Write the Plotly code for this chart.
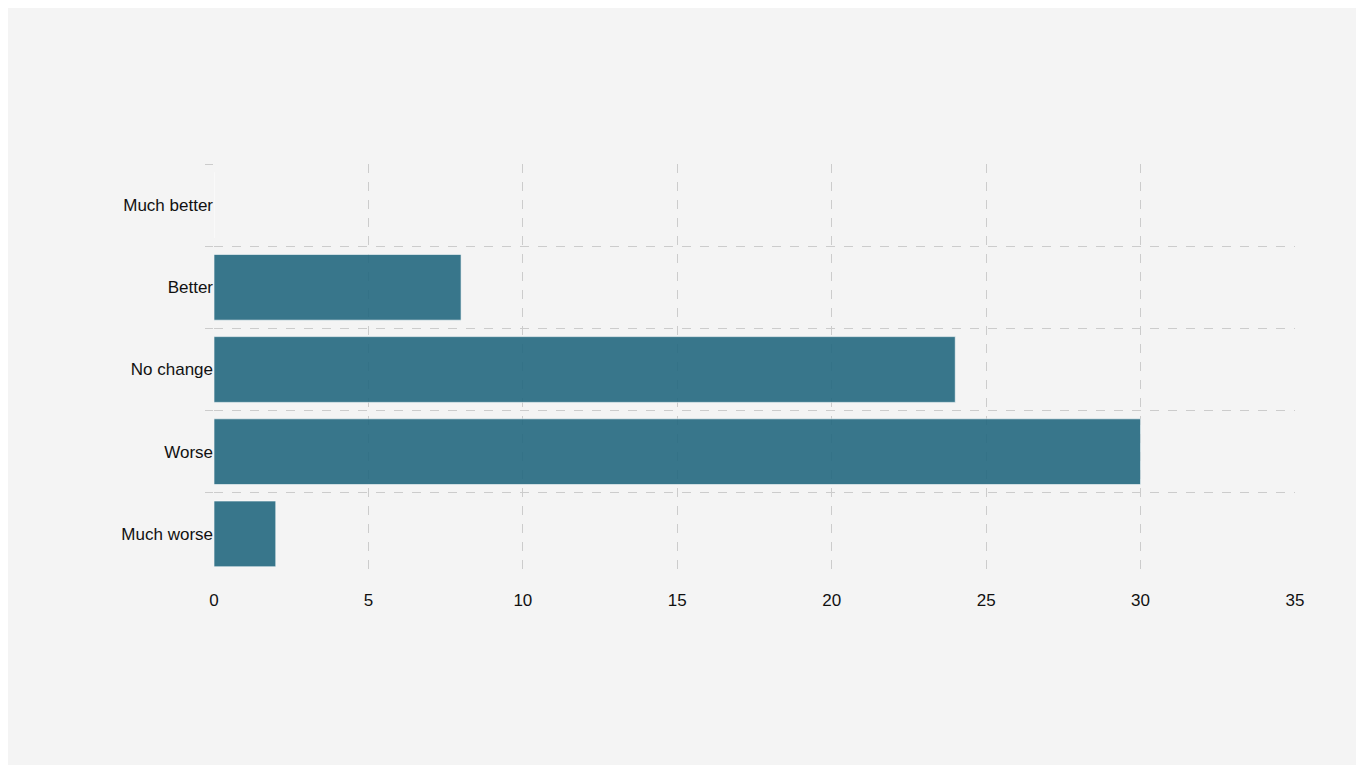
import plotly.graph_objects as go

categories = ["Much better", "Better", "No change", "Worse", "Much worse"]
values = [0, 8, 24, 30, 2]

fig = go.Figure(go.Bar(
    x=values, y=categories, orientation="h",
    marker=dict(color="rgba(35,104,128,0.9)", line=dict(color="rgba(255,255,255,0.6)", width=1)),
))
fig.update_layout(
    width=1364, height=765,
    paper_bgcolor="#f4f4f4", plot_bgcolor="#f4f4f4",
    margin=dict(l=206, r=77, t=156, b=198),
    font=dict(family="Liberation Sans, Arial, sans-serif", size=17, color="#111"),
    bargap=0.2, showlegend=False,
)
fig.update_xaxes(range=[0, 35], dtick=5, showgrid=True, gridcolor="#cccccc", griddash="dash",
                 zeroline=False, ticks="outside", ticklen=10, tickcolor="rgba(0,0,0,0)",
                 showline=False)
fig.update_yaxes(categoryorder="array", categoryarray=categories[::-1], autorange="reversed",
                 tickson="boundaries", showgrid=True, gridcolor="#cccccc", griddash="dash",
                 ticks="outside", ticklen=8, tickcolor="#cccccc", showline=False, zeroline=False)
fig.update_yaxes(categoryarray=categories, autorange=False, range=[4.5, -0.5])
fig.write_html("out.html")
